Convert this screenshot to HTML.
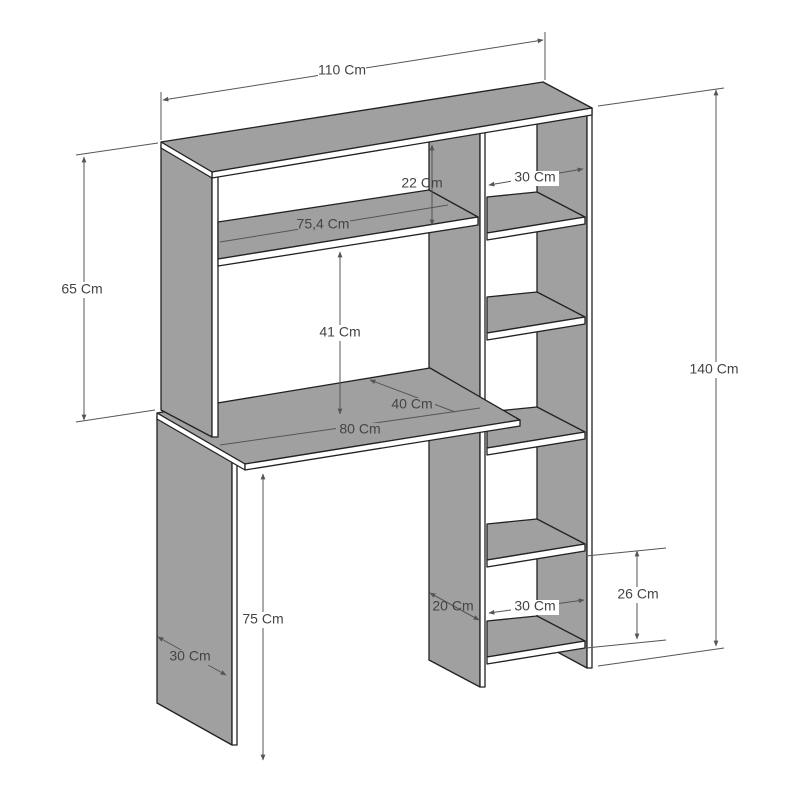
<!DOCTYPE html>
<html><head><meta charset="utf-8"><style>
html,body{margin:0;padding:0;background:#fff;}
svg{display:block;}
text{font-family:"Liberation Sans",sans-serif;font-size:14px;fill:#444;}
</style></head><body>
<svg width="800" height="800" viewBox="0 0 800 800" xmlns="http://www.w3.org/2000/svg">
<defs>
<marker id="a" viewBox="0 0 10 10" refX="9" refY="5" markerWidth="6" markerHeight="6" orient="auto-start-reverse"><path d="M0,1 L10,5 L0,9 z" fill="#555"/></marker>
</defs>
<g stroke="#222" stroke-width="1.3" stroke-linejoin="round" fill="#a0a0a0">
<polygon points="537,115 587,110 587,668 537,641"/>
<polygon points="587,110 592,108 592,668 587,668" fill="#fff"/>
<g>
<polygon points="487,197 537,192 585,217 487,233"/><polygon points="487,233 585,217 585,224 487,240" fill="#fff"/>
<polygon points="487,297 537,292 585,317 487,333"/><polygon points="487,333 585,317 585,324 487,340" fill="#fff"/>
<polygon points="487,412 537,407 585,432 487,448"/><polygon points="487,448 585,432 585,439 487,455" fill="#fff"/>
<polygon points="487,524 537,519 585,544 487,560"/><polygon points="487,560 585,544 585,551 487,567" fill="#fff"/>
<polygon points="487,621 537,616 585,641 487,657"/><polygon points="487,657 585,641 585,648 487,664" fill="#fff"/>
</g>
<polygon points="429,140 480,132 480,687 429,660"/>
<polygon points="480,132 485,131 485,687 480,687" fill="#fff"/>
<polygon points="157,416 232,461 232,745 157,703"/>
<polygon points="232,461 237,463 237,745 232,745" fill="#fff"/>
<polygon points="157,413 430,368 520,420 245,464"/>
<polygon points="157,413 245,464 245,470 157,419" fill="#fff"/>
<polygon points="245,464 520,420 520,426 245,470" fill="#fff"/>
<polygon points="161,145 212,175 212,437 161,410"/>
<polygon points="212,175 218,174 218,437 212,437" fill="#fff"/>
<polygon points="218,222 429,190 478,217 218,259"/>
<polygon points="218,259 478,217 478,225 218,266" fill="#fff"/>
<polygon points="161,142 543,82 592,108 212,172"/>
<polygon points="212,172 592,108 592,115 212,178" fill="#fff"/>
<polygon points="161,142 212,172 212,178 161,148" fill="#fff"/>
</g>
<g stroke="#555" stroke-width="1" fill="none">
<line x1="161" y1="92" x2="161" y2="140"/><line x1="545" y1="32" x2="545" y2="80"/>
<line x1="163" y1="100" x2="543" y2="40" marker-start="url(#a)" marker-end="url(#a)"/>
<line x1="598" y1="106" x2="724" y2="88"/><line x1="598" y1="666" x2="724" y2="648"/>
<line x1="716" y1="90" x2="716" y2="646" marker-start="url(#a)" marker-end="url(#a)"/>
<line x1="158" y1="143" x2="76" y2="155"/><line x1="155" y1="410" x2="76" y2="422"/>
<line x1="84" y1="157" x2="84" y2="420" marker-start="url(#a)" marker-end="url(#a)"/>
<line x1="432" y1="145" x2="432" y2="225" marker-start="url(#a)" marker-end="url(#a)"/>
<line x1="489" y1="185" x2="583" y2="169" marker-start="url(#a)" marker-end="url(#a)"/>
<line x1="220" y1="242" x2="448" y2="205"/>
<line x1="340" y1="252" x2="340" y2="414" marker-start="url(#a)" marker-end="url(#a)"/>
<line x1="370" y1="380" x2="455" y2="412" marker-start="url(#a)"/>
<line x1="220" y1="445" x2="480" y2="408"/>
<line x1="263" y1="474" x2="263" y2="760" marker-start="url(#a)" marker-end="url(#a)"/>
<line x1="158" y1="637" x2="226" y2="675" marker-start="url(#a)" marker-end="url(#a)"/>
<line x1="430" y1="593" x2="479" y2="620" marker-start="url(#a)" marker-end="url(#a)"/>
<line x1="489" y1="613" x2="584" y2="600" marker-start="url(#a)" marker-end="url(#a)"/>
<line x1="586" y1="556" x2="666" y2="548"/><line x1="586" y1="648" x2="666" y2="640"/>
<line x1="637" y1="551" x2="637" y2="639" marker-start="url(#a)" marker-end="url(#a)"/>
</g>
<g text-anchor="middle" dominant-baseline="middle">
<rect x="318" y="62" width="48" height="16" fill="#fff"/><text x="342" y="71">110 Cm</text>
<rect x="688" y="362" width="52" height="16" fill="#fff"/><text x="714" y="370">140 Cm</text>
<rect x="58" y="282" width="52" height="16" fill="#fff"/><text x="82" y="290">65 Cm</text>
<text x="422" y="184">22 Cm</text>
<rect x="511" y="171" width="48" height="15" fill="#fff"/><text x="535" y="178">30 Cm</text>
<rect x="298" y="217" width="52" height="15" fill="#a0a0a0"/><text x="323" y="225">75,4 Cm</text>
<rect x="317" y="325" width="46" height="16" fill="#fff"/><text x="340" y="333">41 Cm</text>
<rect x="389" y="398" width="46" height="15" fill="#a0a0a0"/><text x="412" y="405">40 Cm</text>
<rect x="336" y="423" width="48" height="15" fill="#a0a0a0"/><text x="360" y="430">80 Cm</text>
<rect x="240" y="612" width="46" height="16" fill="#fff"/><text x="263" y="620">75 Cm</text>
<rect x="167" y="650" width="46" height="15" fill="#a0a0a0"/><text x="190" y="657">30 Cm</text>
<text x="453" y="607">20 Cm</text>
<rect x="511" y="600" width="48" height="15" fill="#fff"/><text x="535" y="607">30 Cm</text>
<rect x="613" y="587" width="50" height="16" fill="#fff"/><text x="638" y="595">26 Cm</text>
</g>
</svg>
</body></html>
